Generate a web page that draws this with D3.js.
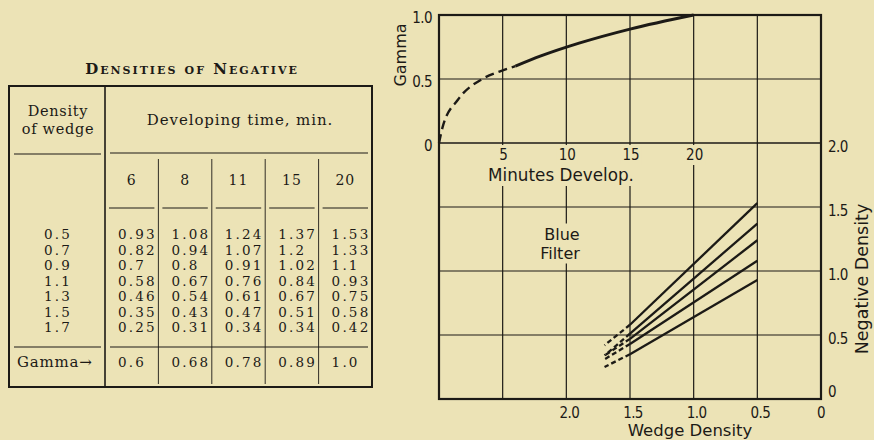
<!DOCTYPE html>
<html><head><meta charset="utf-8">
<script src="https://cdn.jsdelivr.net/npm/d3@7"></script>
<style>
html,body{margin:0;padding:0;background:#ece3b6;}
svg{display:block;}
</style></head>
<body>
<script>
// ---------- DATA ----------
const tableTitle = "Densities of Negative";
const wedgeDensities = [0.5, 0.7, 0.9, 1.1, 1.3, 1.5, 1.7];
const devTimes = [6, 8, 11, 15, 20];
const dens6  = [0.93, 0.82, 0.7, 0.58, 0.46, 0.35, 0.25];
const dens8  = [1.08, 0.94, 0.8, 0.67, 0.54, 0.43, 0.31];
const dens11 = [1.24, 1.07, 0.91, 0.76, 0.61, 0.47, 0.34];
const dens15 = [1.37, 1.2, 1.02, 0.84, 0.67, 0.51, 0.34];
const dens20 = [1.53, 1.33, 1.1, 0.93, 0.75, 0.58, 0.42];
const densLabels6  = ["0.93","0.82","0.7","0.58","0.46","0.35","0.25"];
const densLabels8  = ["1.08","0.94","0.8","0.67","0.54","0.43","0.31"];
const densLabels11 = ["1.24","1.07","0.91","0.76","0.61","0.47","0.34"];
const densLabels15 = ["1.37","1.2","1.02","0.84","0.67","0.51","0.34"];
const densLabels20 = ["1.53","1.33","1.1","0.93","0.75","0.58","0.42"];
const gammaValues = [0.6, 0.68, 0.78, 0.89, 1.0];
const gammaLabels = ["0.6","0.68","0.78","0.89","1.0"];
// extrapolated (dashed) start of gamma curve
const gammaDashMinutes = [0, 0.3, 1.5, 3.4, 4.8, 6];
const gammaDashValues  = [0, 0.13, 0.34, 0.5, 0.56, 0.6];
// wedge range drawn solid (straight) and dashed (extrapolated) on the chart
const solidWedge = [0.5, 1.5];
const dashedWedge = [1.5, 1.7];
const minuteTicks = [5, 10, 15, 20];
const gammaTicks = [1.0, 0.5, 0];
const gammaTickLabels = ["1.0", "0.5", "0"];
const negTicks = [2.0, 1.5, 1.0, 0.5, 0];
const negTickLabels = ["2.0", "1.5", "1.0", "0.5", "0"];
const wedgeTicks = [2.0, 1.5, 1.0, 0.5, 0];
const wedgeTickLabels = ["2.0", "1.5", "1.0", "0.5", "0"];

const densSeries = [dens6, dens8, dens11, dens15, dens20];
const densLabelSeries = [densLabels6, densLabels8, densLabels11, densLabels15, densLabels20];

// ---------- SETUP ----------
const W = 874, H = 440;
const BG = "#ece3b6", INK = "#1c1a16";
const svg = d3.select("body").append("svg").attr("width", W).attr("height", H);
svg.append("rect").attr("width", W).attr("height", H).attr("fill", BG);

// ---------- TABLE ----------
const serif = "'DejaVu Serif', 'Liberation Serif', serif";
const T = svg.append("g").attr("fill", INK).style("font-family", serif);
const tbl = {l: 9, r: 372, t: 86, b: 387, div: 105};
const colX = d3.scaleBand().domain(devTimes).range([tbl.div, tbl.r]);
const rowY = d3.scalePoint().domain(wedgeDensities).range([234, 327]);

T.append("text").attr("x", 192).attr("y", 74).attr("text-anchor", "middle")
  .style("font-size", "15px").style("font-variant", "small-caps").style("letter-spacing", "2px")
  .style("font-weight", "600")
  .text(tableTitle);

// box
T.append("rect").attr("x", tbl.l).attr("y", tbl.t).attr("width", tbl.r - tbl.l).attr("height", tbl.b - tbl.t)
  .attr("fill", "none").attr("stroke", INK).attr("stroke-width", 2);
T.append("line").attr("x1", tbl.div).attr("x2", tbl.div).attr("y1", tbl.t).attr("y2", tbl.b)
  .attr("stroke", INK).attr("stroke-width", 1.6);
// horizontal rules
[[14, 101, 154], [110, 368, 153], [14, 101, 347], [110, 368, 347]].forEach(([a, b, y]) => {
  T.append("line").attr("x1", a).attr("x2", b).attr("y1", y).attr("y2", y).attr("stroke", INK).attr("stroke-width", 1.1);
});
devTimes.forEach(t => {
  T.append("line").attr("x1", colX(t) + 4).attr("x2", colX(t) + colX.bandwidth() - 4).attr("y1", 208).attr("y2", 208)
    .attr("stroke", INK).attr("stroke-width", 1);
});
devTimes.slice(1).forEach(t => {
  T.append("line").attr("x1", colX(t)).attr("x2", colX(t)).attr("y1", 159).attr("y2", 384)
    .attr("stroke", INK).attr("stroke-width", 0.9);
});
// headers
const hdr = sel => sel.style("font-size", "14.5px").style("letter-spacing", "0.7px");
T.append("text").attr("x", 58).attr("y", 116).attr("text-anchor", "middle").call(hdr).text("Density");
T.append("text").attr("x", 58).attr("y", 134).attr("text-anchor", "middle").call(hdr).text("of wedge");
T.append("text").attr("x", 240).attr("y", 125).attr("text-anchor", "middle").call(hdr)
  .style("font-size", "15px").style("letter-spacing", "0.9px").text("Developing time, min.");
devTimes.forEach(t => {
  T.append("text").attr("x", colX(t) + colX.bandwidth() / 2).attr("y", 185).attr("text-anchor", "middle")
    .style("font-size", "14px").style("letter-spacing", "1px").text(t);
});
// data rows
const numStyle = sel => sel.style("font-size", "13.5px").style("letter-spacing", "2.2px");
wedgeDensities.forEach((w, i) => {
  T.append("text").attr("x", 58).attr("y", rowY(w) + 5).attr("text-anchor", "middle").call(numStyle).text(w.toFixed(1));
  devTimes.forEach((t, j) => {
    T.append("text").attr("x", colX(t) + 13).attr("y", rowY(w) + 5).call(numStyle).text(densLabelSeries[j][i]);
  });
});
T.append("text").attr("x", 17).attr("y", 367).style("font-size", "15px").style("letter-spacing", "0.8px").text("Gamma→");
devTimes.forEach((t, j) => {
  T.append("text").attr("x", colX(t) + 13).attr("y", 367).call(numStyle).text(gammaLabels[j]);
});

// ---------- CHART ----------
const sans = "'DejaVu Sans', sans-serif";
const cond = "'DejaVu Sans Condensed', 'DejaVu Sans', sans-serif";
const frame = {l: 439, r: 821, t: 15, b: 399};
const xMin = d3.scaleLinear().domain([0, 30]).range([frame.l, frame.r]);
const yGamma = d3.scaleLinear().domain([0, 1]).range([143, frame.t]);
const xWedge = d3.scaleLinear().domain([3, 0]).range([frame.l, frame.r]);
const yNeg = d3.scaleLinear().domain([0, 2]).range([frame.b, 143]);

const C = svg.append("g");
// vertical grid
C.selectAll("line.v").data(d3.range(5, 30, 5)).join("line")
  .attr("x1", d => xMin(d)).attr("x2", d => xMin(d)).attr("y1", frame.t).attr("y2", frame.b)
  .attr("stroke", INK).attr("stroke-width", 1.2);
// horizontal grid
C.append("line").attr("x1", frame.l).attr("x2", frame.r).attr("y1", yGamma(0.5)).attr("y2", yGamma(0.5)).attr("stroke", INK).attr("stroke-width", 1.2);
C.append("line").attr("x1", frame.l).attr("x2", frame.r).attr("y1", yGamma(0)).attr("y2", yGamma(0)).attr("stroke", INK).attr("stroke-width", 1.4);
[1.5, 1.0, 0.5].forEach(v => {
  C.append("line").attr("x1", frame.l).attr("x2", frame.r).attr("y1", yNeg(v)).attr("y2", yNeg(v)).attr("stroke", INK).attr("stroke-width", 1.2);
});

// label with background knock-out
function label(g, x, y, txt, size, family, anchor) {
  const t = g.append("text").attr("x", x).attr("y", y).attr("text-anchor", anchor || "middle")
    .attr("dominant-baseline", "central").attr("fill", INK)
    .style("font-size", size + "px").style("font-family", family).text(txt);
  const bb = t.node().getBBox();
  g.insert("rect", () => t.node()).attr("x", bb.x - 2).attr("y", bb.y - 1).attr("width", bb.width + 4).attr("height", bb.height + 2).attr("fill", BG);
  return t;
}
const L = svg.append("g");
minuteTicks.forEach(m => label(L, xMin(m) + 1, 155, m, 15, cond));
label(L, 561, 175, "Minutes Develop.", 16.8, sans);
label(L, 562, 234, "Blue", 16, sans);
label(L, 560, 253, "Filter", 16, sans);

// frame
C.append("rect").attr("x", frame.l).attr("y", frame.t).attr("width", frame.r - frame.l).attr("height", frame.b - frame.t)
  .attr("fill", "none").attr("stroke", INK).attr("stroke-width", 2.2);

// axis labels (outside)
gammaTicks.forEach((v, i) => {
  svg.append("text").attr("x", 432).attr("y", yGamma(v) + 3).attr("text-anchor", "end").attr("dominant-baseline", "central")
    .attr("fill", INK).style("font-size", "15px").style("font-family", cond).style("letter-spacing", "-0.6px").text(gammaTickLabels[i]);
});
negTicks.forEach((v, i) => {
  svg.append("text").attr("x", 828).attr("y", v === 0 ? yNeg(v) - 7 : yNeg(v) + 4).attr("dominant-baseline", "central")
    .attr("fill", INK).style("font-size", "15px").style("font-family", cond).style("letter-spacing", "-0.6px").text(negTickLabels[i]);
});
wedgeTicks.forEach((v, i) => {
  svg.append("text").attr("x", xWedge(v) + (v === 0 ? 0 : 3)).attr("y", 413).attr("text-anchor", "middle").attr("dominant-baseline", "central")
    .attr("fill", INK).style("font-size", "15px").style("font-family", cond).style("letter-spacing", "-0.6px").text(wedgeTickLabels[i]);
});
svg.append("text").attr("x", 690).attr("y", 430).attr("text-anchor", "middle").attr("dominant-baseline", "central")
  .attr("fill", INK).style("font-size", "16.5px").style("font-family", sans).text("Wedge Density");
svg.append("text").attr("transform", "translate(400,55) rotate(-90)").attr("text-anchor", "middle").attr("dominant-baseline", "central")
  .attr("fill", INK).style("font-size", "16px").style("font-family", sans).text("Gamma");
svg.append("text").attr("transform", "translate(862,279) rotate(-90)").attr("text-anchor", "middle").attr("dominant-baseline", "central")
  .attr("fill", INK).style("font-size", "17.5px").style("font-family", sans).text("Negative Density");

// gamma curve
const gLine = d3.line().x(d => xMin(d[0])).y(d => yGamma(d[1])).curve(d3.curveMonotoneX);
C.append("path").attr("d", gLine(d3.zip(gammaDashMinutes, gammaDashValues)))
  .attr("fill", "none").attr("stroke", INK).attr("stroke-width", 2.4).attr("stroke-dasharray", "9,5");
C.append("path").attr("d", gLine(d3.zip(devTimes, gammaValues)))
  .attr("fill", "none").attr("stroke", INK).attr("stroke-width", 3);

// density lines: straight solid from wedge 0.5 to 1.5, dashed 1.5 to 1.7
const dLine = d3.line().x(d => xWedge(d[0])).y(d => yNeg(d[1]));
densSeries.forEach(series => {
  const pts = d3.zip(wedgeDensities, series);
  const solid = pts.filter(p => solidWedge.includes(p[0]));
  const dashed = pts.filter(p => dashedWedge.includes(p[0]));
  C.append("path").attr("d", dLine(solid)).attr("fill", "none").attr("stroke", INK).attr("stroke-width", 2.3);
  C.append("path").attr("d", dLine(dashed)).attr("fill", "none").attr("stroke", INK).attr("stroke-width", 2.3).attr("stroke-dasharray", "5,3");
});
</script>
</body></html>
